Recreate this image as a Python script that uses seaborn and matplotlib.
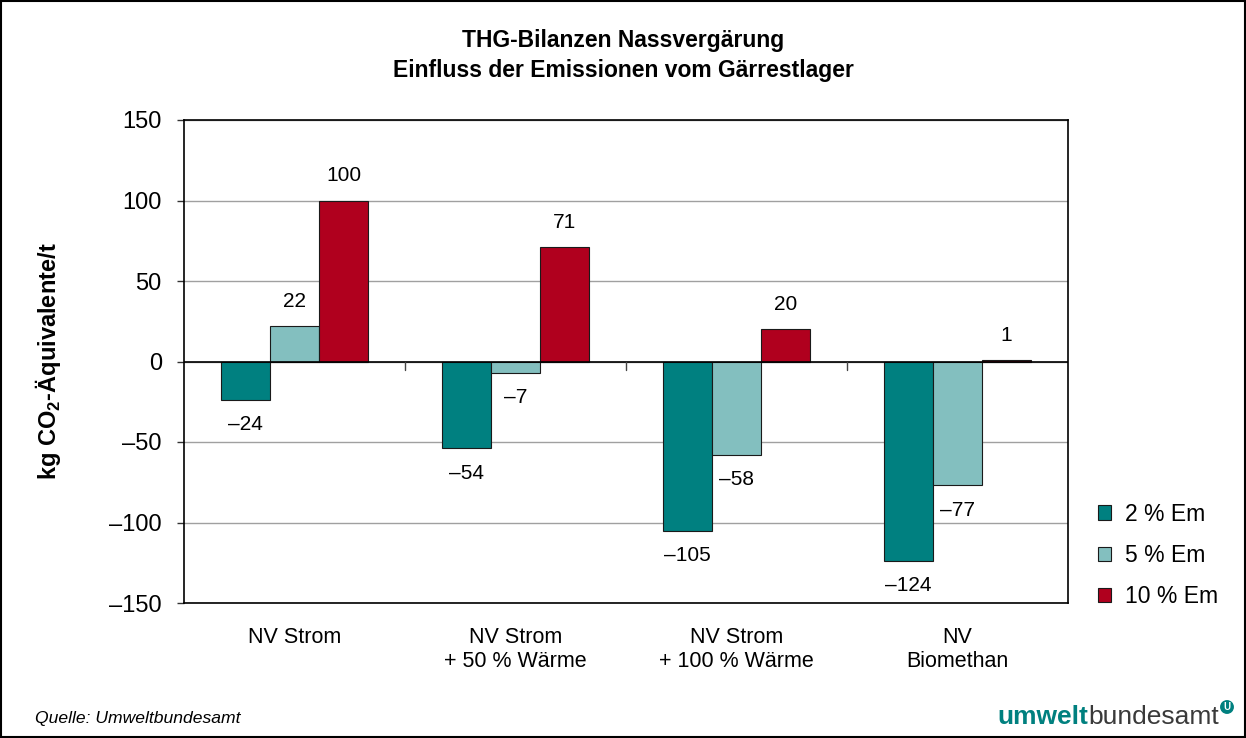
import pandas as pd
import matplotlib.pyplot as plt
import matplotlib.patches as mpatches
import seaborn as sns

# Werte aus der Grafik
kategorien = ['NV Strom', 'NV Strom\n+ 50 % Wärme', 'NV Strom\n+ 100 % Wärme', 'NV\nBiomethan']
serien = ['2 % Em', '5 % Em', '10 % Em']
em_2 = [-24, -54, -105, -124]
em_5 = [22, -7, -58, -77]
em_10 = [100, 71, 20, 1]
farben = ['#008080', '#83BFBF', '#B0001E']

df = pd.DataFrame({
    'kategorie': kategorien * 3,
    'serie': [s for s in serien for _ in kategorien],
    'wert': em_2 + em_5 + em_10,
})

sns.set_style('white')
plt.rcParams['font.family'] = ['Liberation Sans', 'DejaVu Sans']
plt.rcParams['text.color'] = 'black'
plt.rcParams['xtick.color'] = 'black'
plt.rcParams['ytick.color'] = 'black'
plt.rcParams['axes.labelcolor'] = 'black'
plt.rcParams['mathtext.fontset'] = 'custom'
plt.rcParams['mathtext.rm'] = 'Liberation Sans'
plt.rcParams['mathtext.bf'] = 'Liberation Sans:bold'

fig = plt.figure(figsize=(12.46, 7.38), dpi=100)
ax = fig.add_axes([184 / 1246, 1 - 603 / 738, (1068 - 184) / 1246, (603 - 120) / 738])

sns.barplot(x='kategorie', y='wert', hue='serie', data=df, palette=farben, saturation=1,
            width=0.665, edgecolor='#1a1a1a', linewidth=0.8, ax=ax, legend=False)

# Datenbeschriftungen
for cont in ax.containers:
    werte = [b.get_height() for b in cont]
    labels = [f'{v:.0f}'.replace('-', '–') for v in werte]
    ax.bar_label(cont, labels=labels, padding=11, fontsize=15)

ax.set_ylim(-150, 150)
ax.set_yticks(range(-150, 151, 50))
ax.set_yticklabels([str(v).replace('-', '–') for v in range(-150, 151, 50)], fontsize=17)
ax.yaxis.grid(True, color='#a0a0a0', linewidth=1)
ax.set_axisbelow(True)
ax.axhline(0, color='black', linewidth=1.2, zorder=1)
for i in range(len(kategorien) - 1):
    ax.plot([i + 0.5, i + 0.5], [0, -5], color='#444444', linewidth=1, zorder=1)

ax.tick_params(axis='y', length=5, width=1, color='#333333', left=True, pad=11)
ax.tick_params(axis='x', length=0, pad=17, labelsize=15.5)
ax.set_xlim(-0.5, len(kategorien) - 0.5)
ax.set_xlabel('')
ax.set_ylabel(r'kg CO$_\mathbf{2}$-Äquivalente/t', fontsize=17, fontweight='bold', labelpad=33)

for s in ['left', 'bottom', 'right', 'top']:
    ax.spines[s].set_color('black')
    ax.spines[s].set_linewidth(1.2)

# Legende
handles = [mpatches.Patch(facecolor=c, edgecolor='#1a1a1a', linewidth=0.8) for c in farben]
fig.legend(handles, serien, loc='upper left', bbox_to_anchor=(1077 / 1246, 1 - 482 / 738),
           frameon=False, fontsize=16.5, handlelength=0.6, handleheight=0.6,
           handletextpad=0.6, labelspacing=0.8)

# Titel
fig.text(0.5, 1 - 40 / 738, 'THG-Bilanzen Nassvergärung', ha='center', va='center',
         fontsize=16.5, fontweight='bold')
fig.text(0.5, 1 - 70 / 738, 'Einfluss der Emissionen vom Gärrestlager', ha='center', va='center',
         fontsize=16.5, fontweight='bold')

# Fußzeile
fig.text(35 / 1246, 1 - 719 / 738, 'Quelle: Umweltbundesamt', ha='left', va='center',
         fontsize=12.6, style='italic')
t1 = fig.text(997 / 1246, 1 - 717 / 738, 'umwelt', ha='left', va='center',
              fontsize=19, fontweight='bold', color='#00807F')
fig.canvas.draw()
bb = t1.get_window_extent()
fig.text(bb.x1 / 1246, 1 - 717 / 738, 'bundesamt', ha='left', va='center',
         fontsize=19, color='#3a3a3a')
fig.text(1227 / 1246, 1 - 707 / 738, 'U', ha='center', va='center', fontsize=7,
         fontweight='bold', color='white',
         bbox=dict(boxstyle='circle,pad=0.2', facecolor='#00807F', edgecolor='none'))

# Rahmen um die Grafik
fig.patches.append(mpatches.Rectangle((0.001, 0.001), 0.998, 0.998, transform=fig.transFigure,
                                      fill=False, edgecolor='black', linewidth=1.5))

plt.savefig('out.png', dpi=100)
